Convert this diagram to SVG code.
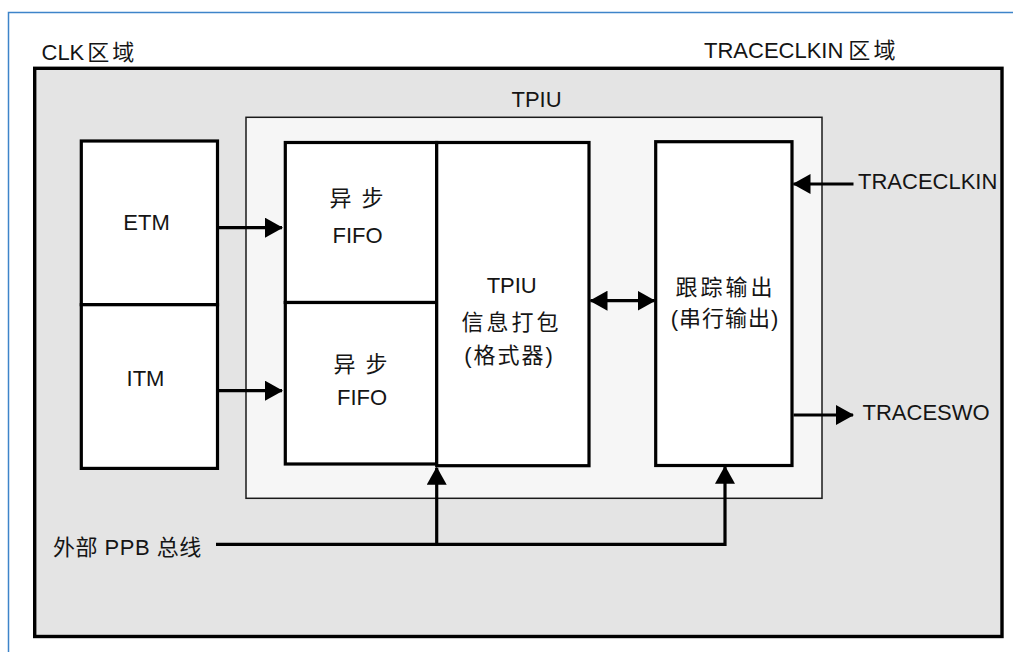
<svg xmlns="http://www.w3.org/2000/svg" width="1013" height="652" viewBox="0 0 1013 652">
<style>
  text { font-family: "Liberation Sans", "Noto Sans CJK SC", sans-serif; font-size: 22px; fill: #151515; }
  .c { text-anchor: middle; }
  .blk { fill: #ffffff; stroke: #000000; stroke-width: 3.2; }
  .wire { fill: none; stroke: #000000; stroke-width: 3.2; }
</style>
<defs>
  <marker id="ah" viewBox="0 0 18 20" refX="17" refY="10" markerWidth="18" markerHeight="20" markerUnits="userSpaceOnUse" orient="auto-start-reverse">
    <path d="M0,0 L18,10 L0,20 Z" fill="#000"/>
  </marker>
</defs>
<rect width="1013" height="652" fill="#ffffff"/>
<path d="M8.5,652 V12.5 H1013" fill="none" stroke="#3d84c9" stroke-width="1.5"/>

<g id="clk-domain">
  <rect x="34.7" y="68.3" width="967.3" height="568.2" fill="#e4e4e4" stroke="#000" stroke-width="3.4"/>
  <text x="41.5" y="60">CLK<tspan dx="3">区</tspan><tspan dx="3">域</tspan></text>
  <text x="704" y="57.5">TRACECLKIN<tspan dx="5">区</tspan><tspan dx="3">域</tspan></text>
</g>

<g id="tpiu">
  <rect x="246" y="117.3" width="576" height="381" fill="#f6f6f6" stroke="#1a1a1a" stroke-width="1.5"/>
  <text x="511.5" y="107">TPIU</text>
</g>

<g id="etm">
  <rect class="blk" x="81.3" y="141" width="136.2" height="163.7"/>
  <text class="c" x="146.5" y="230">ETM</text>
</g>
<g id="itm">
  <rect class="blk" x="81.3" y="304.7" width="136.2" height="163.7"/>
  <text class="c" x="145.5" y="386">ITM</text>
</g>

<g id="fifo1">
  <rect class="blk" x="285.3" y="142.5" width="151.4" height="160"/>
  <text class="c" x="356.5" y="206"><tspan>异</tspan><tspan dx="10">步</tspan></text>
  <text class="c" x="357.5" y="242.5">FIFO</text>
</g>
<g id="fifo2">
  <rect class="blk" x="285.3" y="302.5" width="151.4" height="161.5"/>
  <text class="c" x="360.5" y="371.5"><tspan>异</tspan><tspan dx="10">步</tspan></text>
  <text class="c" x="362" y="405">FIFO</text>
</g>
<g id="formatter">
  <rect class="blk" x="436.7" y="142.5" width="152.3" height="323.2"/>
  <text class="c" x="511.7" y="293">TPIU</text>
  <text class="c" x="511.5" y="330" letter-spacing="3">信息打包</text>
  <text class="c" x="509.5" y="363" letter-spacing="2">(格式器)</text>
</g>
<g id="trace-out">
  <rect class="blk" x="655.7" y="141.7" width="136.3" height="323.8"/>
  <text class="c" x="725.5" y="295" letter-spacing="3">跟踪输出</text>
  <text class="c" x="725" y="326" letter-spacing="1">(串行输出)</text>
</g>

<g id="labels">
  <text x="858" y="188.5">TRACECLKIN</text>
  <text x="862.5" y="420">TRACESWO</text>
  <text x="53" y="555" letter-spacing="0.5">外部 PPB 总线</text>
</g>

<g id="connectors">
  <line class="wire" x1="216" y1="227.7" x2="282" y2="227.7" marker-end="url(#ah)"/>
  <line class="wire" x1="216" y1="390.7" x2="282" y2="390.7" marker-end="url(#ah)"/>
  <line class="wire" x1="590.5" y1="300.7" x2="654.5" y2="300.7" marker-start="url(#ah)" marker-end="url(#ah)"/>
  <line class="wire" x1="853.5" y1="184" x2="793.5" y2="184" marker-end="url(#ah)"/>
  <line class="wire" x1="793.5" y1="415" x2="853" y2="415" marker-end="url(#ah)"/>
  <polyline class="wire" points="216,544.3 725,544.3 725,466.7" marker-end="url(#ah)"/>
  <line class="wire" x1="436.7" y1="544.3" x2="436.7" y2="467.8" marker-end="url(#ah)"/>
</g>
</svg>
